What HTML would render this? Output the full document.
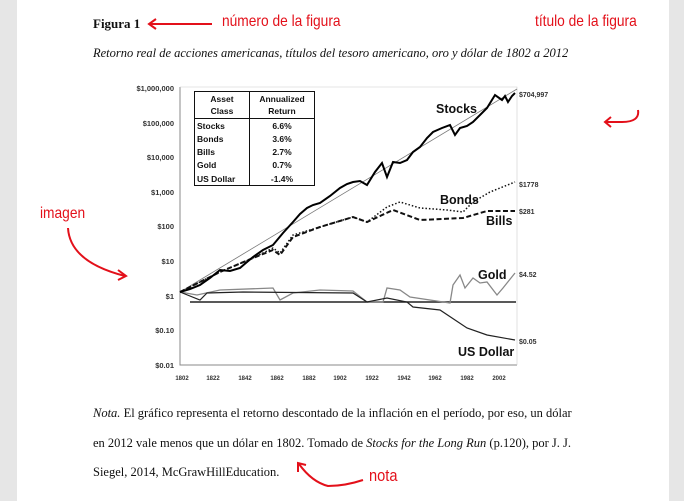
<!DOCTYPE html>
<html><head><meta charset="utf-8"><style>
body{margin:0;width:684px;height:501px;background:#e6e6e6;overflow:hidden}
.page{position:absolute;left:17px;top:0;width:652px;height:501px;background:#fff}
.t{position:absolute;font-family:"Liberation Serif",serif;color:#111;white-space:nowrap}
.r{position:absolute;font-family:"Liberation Sans",sans-serif;color:#e3101a;white-space:nowrap;transform:scaleX(0.86);transform-origin:left top}
svg{position:absolute;left:0;top:0}
</style></head><body>
<div class="page"></div>
<div class="t" style="left:93px;top:16px;font-size:13px;font-weight:bold">Figura 1</div>
<div class="t" style="left:93px;top:46px;font-size:12.5px;font-style:italic">Retorno real de acciones americanas, títulos del tesoro americano, oro y dólar de 1802 a 2012</div>
<div class="r" style="left:222px;top:13px;font-size:16px">número de la figura</div>
<div class="r" style="left:535px;top:13px;font-size:16px">título de la figura</div>
<div class="r" style="left:40px;top:205px;font-size:16px">imagen</div>
<div class="r" style="left:369px;top:466px;font-size:17px">nota</div>
<div class="t" style="left:93px;top:406px;font-size:12.5px"><i>Nota.</i> El gráfico representa el retorno descontado de la inflación en el período, por eso, un dólar</div>
<div class="t" style="left:93px;top:436px;font-size:12.5px">en 2012 vale menos que un dólar en 1802. Tomado de <i>Stocks for the Long Run</i> (p.120), por J. J.</div>
<div class="t" style="left:93px;top:465px;font-size:12.5px">Siegel, 2014, McGrawHillEducation.</div>
<svg width="684" height="501" font-family="Liberation Sans, sans-serif">
<g stroke="#e3101a" stroke-width="2" fill="none">
<path d="M150 24 H212"/><path d="M156 19 L149 24 L156 29"/>
<path d="M638 110 Q640 122 622 122 H606"/><path d="M611 117 L605 122 L611 127"/>
<path d="M68 228 Q70 262 125 276"/><path d="M118 270 L126 276 L118 280"/>
<path d="M363 480 Q345 486 328 486 Q312 482 299 464"/><path d="M298 472 L298 463 L306 465"/>
</g>
<g font-size="7.5" font-weight="bold" fill="#333" text-anchor="end">
<text x="174" y="91">$1,000,000</text><text x="174" y="126">$100,000</text><text x="174" y="160">$10,000</text>
<text x="174" y="195">$1,000</text><text x="174" y="229">$100</text><text x="174" y="264">$10</text>
<text x="174" y="299">$1</text><text x="174" y="333">$0.10</text><text x="174" y="368">$0.01</text>
</g>
<g font-size="6" font-weight="bold" fill="#333" text-anchor="middle">
<text x="182" y="380">1802</text><text x="213" y="380">1822</text><text x="245" y="380">1842</text><text x="277" y="380">1862</text>
<text x="309" y="380">1882</text><text x="340" y="380">1902</text><text x="372" y="380">1922</text><text x="404" y="380">1942</text>
<text x="435" y="380">1962</text><text x="467" y="380">1982</text><text x="499" y="380">2002</text>
</g>
<path d="M180 87 V365 H517" stroke="#888" fill="none" stroke-width="1"/>
<path d="M180 87 H517 V365" stroke="#ccc" fill="none" stroke-width="0.6"/>
<line x1="180" y1="292" x2="517" y2="89" stroke="#777" stroke-width="0.8"/>
<line x1="190" y1="302" x2="516" y2="302" stroke="#222" stroke-width="1.5"/>
<polyline fill="none" stroke="#888" stroke-width="1.3" points="180,292 197,295 220,290 273,288 280,300 293,293 320,290 353,291 367,302 383,302 387,288 400,290 410,297 450,303 453,285 460,275 465,288 473,278 480,283 487,282 497,295 503,288 515,273"/>
<polyline fill="none" stroke="#222" stroke-width="1.2" points="180,292 200,300 207,293 243,292 353,293 367,302 387,298 407,302 413,307 440,310 467,328 487,335 515,340"/>
<polyline fill="none" stroke="#111" stroke-width="1.5" stroke-dasharray="1.5,2" points="180,292 220,272 253,258 273,248 280,253 293,235 320,227 353,217 367,222 387,207 400,202 420,208 447,210 463,212 473,202 490,192 515,182"/>
<polyline fill="none" stroke="#111" stroke-width="2" stroke-dasharray="5,2.5" points="180,292 220,272 253,258 273,250 280,255 293,237 320,227 353,217 367,222 393,210 420,220 463,218 487,211 515,211"/>
<polyline fill="none" stroke="#000" stroke-width="2" points="180,292 190,289 200,285 210,278 220,270 230,271 240,268 247,262 253,257 263,250 273,245 283,233 293,222 300,214 307,208 313,205 320,203 330,196 340,188 347,184 353,182 360,181 367,185 375,172 382,163 387,177 393,162 400,163 407,160 413,152 420,147 427,138 433,132 442,128 450,125 455,135 460,128 467,126 473,122 480,115 487,108 495,95 502,100 505,96 508,102 512,96 515,93"/>
<g font-size="12.5" font-weight="bold" fill="#111">
<text x="436" y="113">Stocks</text><text x="440" y="204">Bonds</text><text x="486" y="225">Bills</text>
<text x="478" y="279">Gold</text><text x="458" y="356">US Dollar</text>
</g>
<g font-size="7" font-weight="bold" fill="#333">
<text x="519" y="97">$704,997</text><text x="519" y="187">$1778</text><text x="519" y="214">$281</text>
<text x="519" y="277">$4.52</text><text x="519" y="344">$0.05</text>
</g>
<g stroke="#111" stroke-width="1" fill="#fff">
<rect x="194.5" y="91.5" width="120" height="94"/>
<line x1="249.5" y1="92" x2="249.5" y2="185"/><line x1="195" y1="118.5" x2="314" y2="118.5"/>
</g>
<g font-size="8.5" font-weight="bold" fill="#111">
<g text-anchor="middle"><text x="222" y="102">Asset</text><text x="222" y="114">Class</text>
<text x="282" y="102">Annualized</text><text x="282" y="114">Return</text>
<text x="282" y="129">6.6%</text><text x="282" y="142">3.6%</text><text x="282" y="155">2.7%</text><text x="282" y="168">0.7%</text><text x="282" y="182">-1.4%</text></g>
<text x="197" y="129">Stocks</text><text x="197" y="142">Bonds</text><text x="197" y="155">Bills</text><text x="197" y="168">Gold</text><text x="197" y="182">US Dollar</text>
</g>
</svg>
</body></html>
